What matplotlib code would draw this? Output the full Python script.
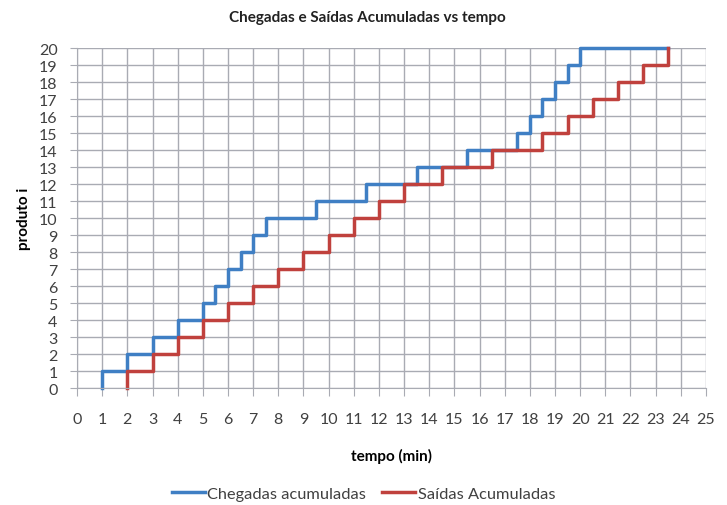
#!/usr/bin/env python3

# Chegadas e Saidas acumuladas (step chart)

import numpy as np
import matplotlib
matplotlib.use('Agg')
import matplotlib.pyplot as plt

plt.rcParams['font.family'] = ['Lato', 'DejaVu Sans']

# =============================================================
# Data
chegadas_t = [1, 2, 3, 4, 5, 5.5, 6, 6.5, 7, 7.5, 9.5, 11.5, 13.5, 15.5,
              17.5, 18, 18.5, 19, 19.5, 20]
saidas_t = [2, 3, 4, 5, 6, 7, 8, 9, 10, 11, 12, 13, 14.5, 16.5,
            18.5, 19.5, 20.5, 21.5, 22.5, 23.5]
produto = list(range(1, 21))
t_fim = 23.5

x_ticks = list(range(0, 26))
y_ticks = list(range(0, 21))

# =============================================================
fig = plt.figure(figsize=(7.27, 5.06), dpi=100)
ax = fig.add_axes([0.106, 0.231, 0.865, 0.672])

grid_c = '#a9abb3'
ax.set_xlim(0, 25)
ax.set_ylim(0, 20)
ax.set_xticks(x_ticks)
ax.set_yticks(y_ticks)
ax.grid(True, color=grid_c, linewidth=1.0)
ax.set_axisbelow(True)
for s in ['top', 'right']:
    ax.spines[s].set_visible(False)
for s in ['left', 'bottom']:
    ax.spines[s].set_color(grid_c)
ax.tick_params(axis='x', direction='out', length=6, color=grid_c,
               labelsize=11.5, labelcolor='#404040', pad=11)
ax.tick_params(axis='y', direction='out', length=5, color=grid_c,
               labelsize=11.5, labelcolor='#404040', pad=9)

# blue: arrivals
xb = [chegadas_t[0]] + chegadas_t + [t_fim]
yb = [0] + produto + [produto[-1]]
ax.step(xb, yb, where='post', color='#3f7fc4', linewidth=2.5,
        label='Chegadas acumuladas', clip_on=False)

# red: departures
xr = [saidas_t[0]] + saidas_t
yr = [0] + produto
ax.step(xr, yr, where='post', color='#c0413d', linewidth=2.5,
        label='Saídas Acumuladas', clip_on=False)

fig.text(0.505, 0.965, 'Chegadas e Saídas Acumuladas vs tempo', ha='center',
         va='center', fontsize=11, fontweight='bold', color='#222222')
ax.set_xlabel('tempo (min)', fontsize=11, fontweight='bold', labelpad=16)
ax.set_ylabel('produto i', fontsize=11, fontweight='bold', labelpad=6)

fig.legend(loc='center', bbox_to_anchor=(0.5, 0.022), ncol=2, frameon=False,
           fontsize=11.8, handlelength=2.0, handletextpad=0.15,
           columnspacing=1.0, labelcolor='#404040')

fig.savefig('out.png', dpi=100)
